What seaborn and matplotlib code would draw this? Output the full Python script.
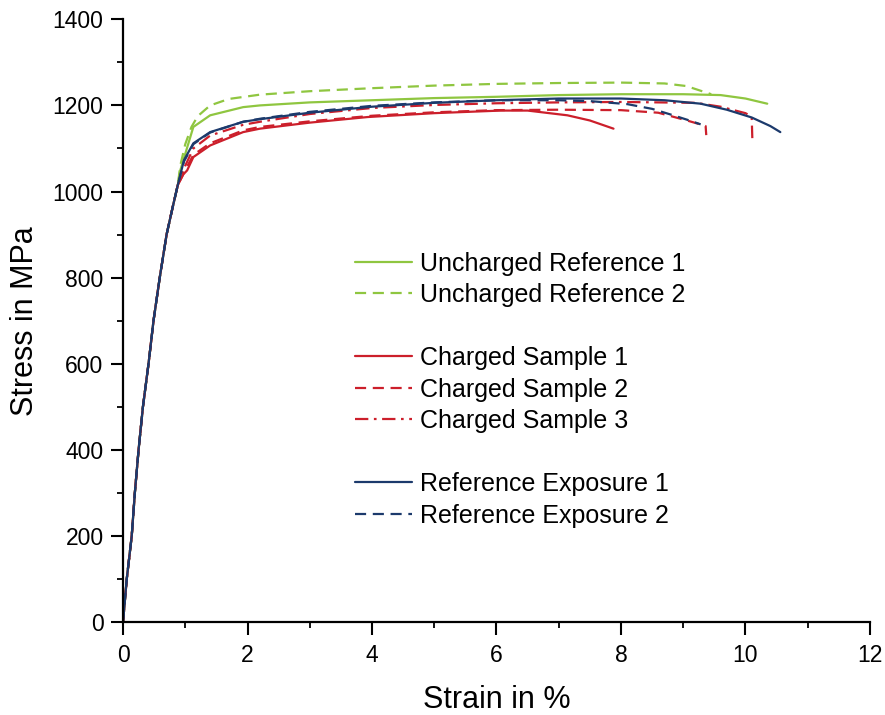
import matplotlib
matplotlib.use("Agg")
import matplotlib.pyplot as plt
from matplotlib.lines import Line2D
from matplotlib.ticker import MultipleLocator
import pandas as pd
import seaborn as sns

# shared elastic part
elastic_strain = [0, 0.06, 0.14, 0.19, 0.25, 0.32, 0.41, 0.49, 0.59, 0.70, 0.80, 0.88]
elastic_stress = [0, 100, 200, 300, 400, 500, 600, 700, 800, 900, 965, 1015]

unch1_strain = [0.92, 1.13, 1.40, 1.93, 2.2, 3, 4, 5, 6, 7, 8, 9, 9.6, 10.0, 10.35]
unch1_stress = [1049, 1150, 1177, 1196, 1200, 1207, 1212, 1217, 1220, 1224, 1226, 1226, 1224, 1216, 1204]

unch2_strain = [0.92, 1.0, 1.1, 1.2, 1.4, 1.7, 2.2, 3, 4, 5, 6, 7, 8, 8.7, 9.05, 9.45]
unch2_stress = [1060, 1110, 1150, 1175, 1200, 1215, 1225, 1233, 1240, 1246, 1250, 1252, 1253, 1251, 1245, 1226]

ch1_strain = [0.97, 1.03, 1.13, 1.40, 1.93, 2.2, 3, 3.93, 5, 6.07, 6.5, 7.14, 7.5, 7.88]
ch1_stress = [1040, 1049, 1080, 1107, 1138, 1146, 1160, 1173, 1182, 1188, 1188, 1177, 1165, 1146]

ch2_strain = [1.0, 1.13, 1.4, 1.93, 2.2, 3, 4, 5, 6, 7, 8, 8.6, 9.06, 9.32, 9.36, 9.37]
ch2_stress = [1050, 1085, 1112, 1142, 1150, 1163, 1176, 1184, 1189, 1190, 1189, 1183, 1165, 1154, 1152, 1131]

ch3_strain = [1.0, 1.13, 1.4, 1.93, 2.2, 3, 4, 5, 6, 7, 8, 9.2, 9.6, 10.0, 10.1, 10.11]
ch3_stress = [1060, 1100, 1130, 1155, 1162, 1180, 1194, 1201, 1205, 1207, 1208, 1206, 1197, 1182, 1174, 1124]

exp1_strain = [0.98, 1.13, 1.40, 1.93, 2.2, 3, 4, 5, 6, 7, 8, 8.7, 9.28, 9.7, 10.1, 10.4, 10.56]
exp1_stress = [1073, 1112, 1138, 1162, 1168, 1183, 1197, 1206, 1212, 1216, 1216, 1212, 1204, 1190, 1172, 1152, 1138]

exp2_strain = [0.98, 1.13, 1.4, 1.93, 2.2, 3, 4, 5, 6, 7, 7.5, 8.1, 8.5, 8.84, 9.1, 9.28]
exp2_stress = [1070, 1110, 1137, 1162, 1169, 1185, 1199, 1207, 1212, 1212, 1210, 1203, 1192, 1177, 1165, 1156]

labels = ["Uncharged Reference 1", "Uncharged Reference 2",
          "Charged Sample 1", "Charged Sample 2", "Charged Sample 3",
          "Reference Exposure 1", "Reference Exposure 2"]

GREEN = "#8fc640"
RED = "#cc1f2b"
BLUE = "#1c3a6c"

curves = [
    (unch1_strain, unch1_stress, GREEN, "-"),
    (unch2_strain, unch2_stress, GREEN, (0, (5, 3))),
    (ch1_strain, ch1_stress, RED, "-"),
    (ch2_strain, ch2_stress, RED, (0, (5, 3))),
    (ch3_strain, ch3_stress, RED, (0, (6, 2.5, 1.2, 2.5))),
    (exp1_strain, exp1_stress, BLUE, "-"),
    (exp2_strain, exp2_stress, BLUE, (0, (5, 3))),
]

sns.set_style("ticks", rc={"text.color": "black", "axes.labelcolor": "black",
                           "xtick.color": "black", "ytick.color": "black",
                           "axes.edgecolor": "black"})
plt.rcParams["font.family"] = ["Liberation Sans", "DejaVu Sans"]

fig = plt.figure(figsize=(8.85, 7.15), dpi=100)
ax = fig.add_axes([0.139, 0.130, 0.844, 0.843])

handles = []
for (xs, ys, color, ls), label in zip(curves, labels):
    df = pd.DataFrame({"strain": elastic_strain + xs, "stress": elastic_stress + ys})
    sns.lineplot(data=df, x="strain", y="stress", ax=ax, color=color,
                 linestyle=ls, linewidth=1.6, sort=False, estimator=None)
    handles.append(Line2D([], [], color=color, linestyle=ls, linewidth=1.6, label=label))

blank = Line2D([], [], color="none", label=" ")
leg_handles = handles[:2] + [blank] + handles[2:5] + [blank] + handles[5:]
ax.legend(handles=leg_handles, loc="upper left", bbox_to_anchor=(0.280, 0.652),
          frameon=False, fontsize=18, handlelength=2.3, handletextpad=0.32,
          labelspacing=0.3)

ax.set_xlim(0, 12)
ax.set_ylim(0, 1400)
ax.xaxis.set_major_locator(MultipleLocator(2))
ax.xaxis.set_minor_locator(MultipleLocator(1))
ax.yaxis.set_major_locator(MultipleLocator(200))
ax.yaxis.set_minor_locator(MultipleLocator(100))
ax.tick_params(which="major", length=9, width=1.5, labelsize=16.5, pad=5)
ax.tick_params(axis="x", which="major", pad=7)
ax.tick_params(which="minor", length=4.5, width=1.3)
for s in ["left", "bottom"]:
    ax.spines[s].set_linewidth(1.6)
sns.despine(ax=ax)

ax.set_xlabel("Strain in %", fontsize=22, labelpad=13)
ax.set_ylabel("Stress in MPa", fontsize=22, labelpad=9)

fig.savefig("out.png", dpi=100)
